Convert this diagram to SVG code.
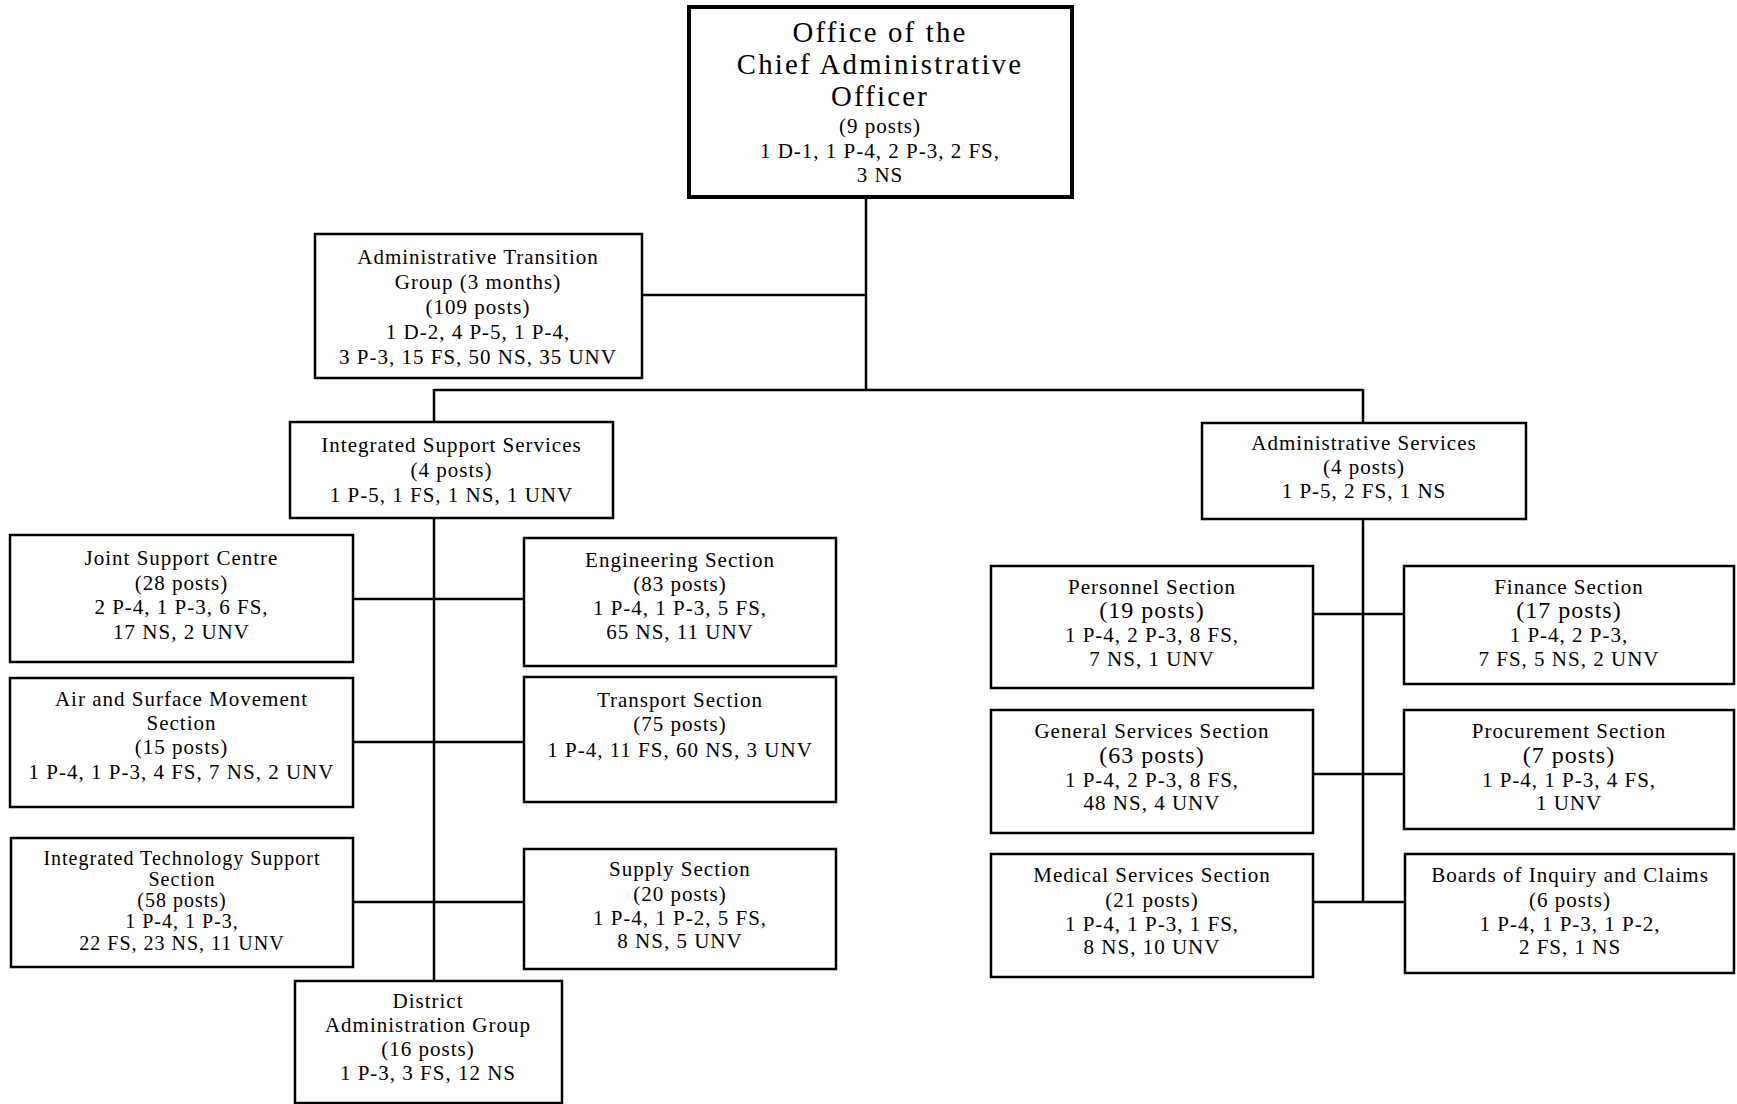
<svg xmlns="http://www.w3.org/2000/svg" width="1737" height="1104" viewBox="0 0 1737 1104">
<style>
.box{fill:#fff;stroke:#000;stroke-width:2.5}
.top{fill:#fff;stroke:#000;stroke-width:4}
.ln{stroke:#000;stroke-width:2.5;fill:none}
text{font-family:"Liberation Serif","Times New Roman",serif;font-size:21px;letter-spacing:1px;fill:#000;text-anchor:middle}
.big{font-size:28.8px;letter-spacing:2.2px}
.mid{font-size:24px}
.sm{font-size:20px}
</style>
<rect width="1737" height="1104" fill="#fff"/>
<g id="connectors">
<line class="ln" x1="866" y1="197" x2="866" y2="391"/>
<line class="ln" x1="642" y1="295" x2="866" y2="295"/>
<line class="ln" x1="434" y1="390" x2="1363" y2="390"/>
<line class="ln" x1="434" y1="389" x2="434" y2="981"/>
<line class="ln" x1="1363" y1="389" x2="1363" y2="903"/>
<line class="ln" x1="353" y1="599" x2="524" y2="599"/>
<line class="ln" x1="353" y1="742" x2="524" y2="742"/>
<line class="ln" x1="353" y1="902" x2="524" y2="902"/>
<line class="ln" x1="1313" y1="614" x2="1404" y2="614"/>
<line class="ln" x1="1313" y1="774" x2="1404" y2="774"/>
<line class="ln" x1="1313" y1="902" x2="1405" y2="902"/>
</g>
<g id="office-cao">
<rect class="top" x="689" y="7" width="383" height="190"/>
<text x="880" y="42" class="big">Office of the</text>
<text x="880" y="74" class="big">Chief Administrative</text>
<text x="880" y="106" class="big">Officer</text>
<text x="880" y="133">(9 posts)</text>
<text x="880" y="158">1 D-1, 1 P-4, 2 P-3, 2 FS,</text>
<text x="880" y="182">3 NS</text>
</g>
<g id="admin-transition">
<rect class="box" x="315" y="234" width="327" height="144"/>
<text x="478" y="264">Administrative Transition</text>
<text x="478" y="289">Group (3 months)</text>
<text x="478" y="314">(109 posts)</text>
<text x="478" y="339">1 D-2, 4 P-5, 1 P-4,</text>
<text x="478" y="364">3 P-3, 15 FS, 50 NS, 35 UNV</text>
</g>
<g id="integrated-support">
<rect class="box" x="290" y="422" width="323" height="96"/>
<text x="451.5" y="452">Integrated Support Services</text>
<text x="451.5" y="477">(4 posts)</text>
<text x="451.5" y="502">1 P-5, 1 FS, 1 NS, 1 UNV</text>
</g>
<g id="joint-support">
<rect class="box" x="10" y="535" width="343" height="127"/>
<text x="181.5" y="565">Joint Support Centre</text>
<text x="181.5" y="590">(28 posts)</text>
<text x="181.5" y="614">2 P-4, 1 P-3, 6 FS,</text>
<text x="181.5" y="639">17 NS, 2 UNV</text>
</g>
<g id="engineering">
<rect class="box" x="524" y="538" width="312" height="128"/>
<text x="680" y="567">Engineering Section</text>
<text x="680" y="591">(83 posts)</text>
<text x="680" y="615">1 P-4, 1 P-3, 5 FS,</text>
<text x="680" y="639">65 NS, 11 UNV</text>
</g>
<g id="air-surface">
<rect class="box" x="10" y="678" width="343" height="129"/>
<text x="181.5" y="706">Air and Surface Movement</text>
<text x="181.5" y="730">Section</text>
<text x="181.5" y="754">(15 posts)</text>
<text x="181.5" y="779">1 P-4, 1 P-3, 4 FS, 7 NS, 2 UNV</text>
</g>
<g id="transport">
<rect class="box" x="524" y="677" width="312" height="125"/>
<text x="680" y="707">Transport Section</text>
<text x="680" y="731">(75 posts)</text>
<text x="680" y="757">1 P-4, 11 FS, 60 NS, 3 UNV</text>
</g>
<g id="integrated-technology">
<rect class="box" x="11" y="838" width="342" height="129"/>
<text x="182" y="865" class="sm">Integrated Technology Support</text>
<text x="182" y="886" class="sm">Section</text>
<text x="182" y="907" class="sm">(58 posts)</text>
<text x="182" y="928" class="sm">1 P-4, 1 P-3,</text>
<text x="182" y="950" class="sm">22 FS, 23 NS, 11 UNV</text>
</g>
<g id="supply">
<rect class="box" x="524" y="849" width="312" height="120"/>
<text x="680" y="876">Supply Section</text>
<text x="680" y="901">(20 posts)</text>
<text x="680" y="925">1 P-4, 1 P-2, 5 FS,</text>
<text x="680" y="948">8 NS, 5 UNV</text>
</g>
<g id="district-admin">
<rect class="box" x="295" y="981" width="267" height="122"/>
<text x="428" y="1008">District</text>
<text x="428" y="1032">Administration Group</text>
<text x="428" y="1056">(16 posts)</text>
<text x="428" y="1080">1 P-3, 3 FS, 12 NS</text>
</g>
<g id="admin-services">
<rect class="box" x="1202" y="423" width="324" height="96"/>
<text x="1364" y="450">Administrative Services</text>
<text x="1364" y="474">(4 posts)</text>
<text x="1364" y="498">1 P-5, 2 FS, 1 NS</text>
</g>
<g id="personnel">
<rect class="box" x="991" y="566" width="322" height="122"/>
<text x="1152" y="594">Personnel Section</text>
<text x="1152" y="618" class="mid">(19 posts)</text>
<text x="1152" y="642">1 P-4, 2 P-3, 8 FS,</text>
<text x="1152" y="666">7 NS, 1 UNV</text>
</g>
<g id="finance">
<rect class="box" x="1404" y="566" width="330" height="118"/>
<text x="1569" y="594">Finance Section</text>
<text x="1569" y="618" class="mid">(17 posts)</text>
<text x="1569" y="642">1 P-4, 2 P-3,</text>
<text x="1569" y="666">7 FS, 5 NS, 2 UNV</text>
</g>
<g id="general-services">
<rect class="box" x="991" y="710" width="322" height="123"/>
<text x="1152" y="738">General Services Section</text>
<text x="1152" y="763" class="mid">(63 posts)</text>
<text x="1152" y="787">1 P-4, 2 P-3, 8 FS,</text>
<text x="1152" y="810">48 NS, 4 UNV</text>
</g>
<g id="procurement">
<rect class="box" x="1404" y="710" width="330" height="119"/>
<text x="1569" y="738">Procurement Section</text>
<text x="1569" y="763" class="mid">(7 posts)</text>
<text x="1569" y="787">1 P-4, 1 P-3, 4 FS,</text>
<text x="1569" y="810">1 UNV</text>
</g>
<g id="medical">
<rect class="box" x="991" y="854" width="322" height="123"/>
<text x="1152" y="882">Medical Services Section</text>
<text x="1152" y="907">(21 posts)</text>
<text x="1152" y="931">1 P-4, 1 P-3, 1 FS,</text>
<text x="1152" y="954">8 NS, 10 UNV</text>
</g>
<g id="boards-inquiry">
<rect class="box" x="1405" y="854" width="329" height="119"/>
<text x="1570" y="882">Boards of Inquiry and Claims</text>
<text x="1570" y="907">(6 posts)</text>
<text x="1570" y="931">1 P-4, 1 P-3, 1 P-2,</text>
<text x="1570" y="954">2 FS, 1 NS</text>
</g>
</svg>
